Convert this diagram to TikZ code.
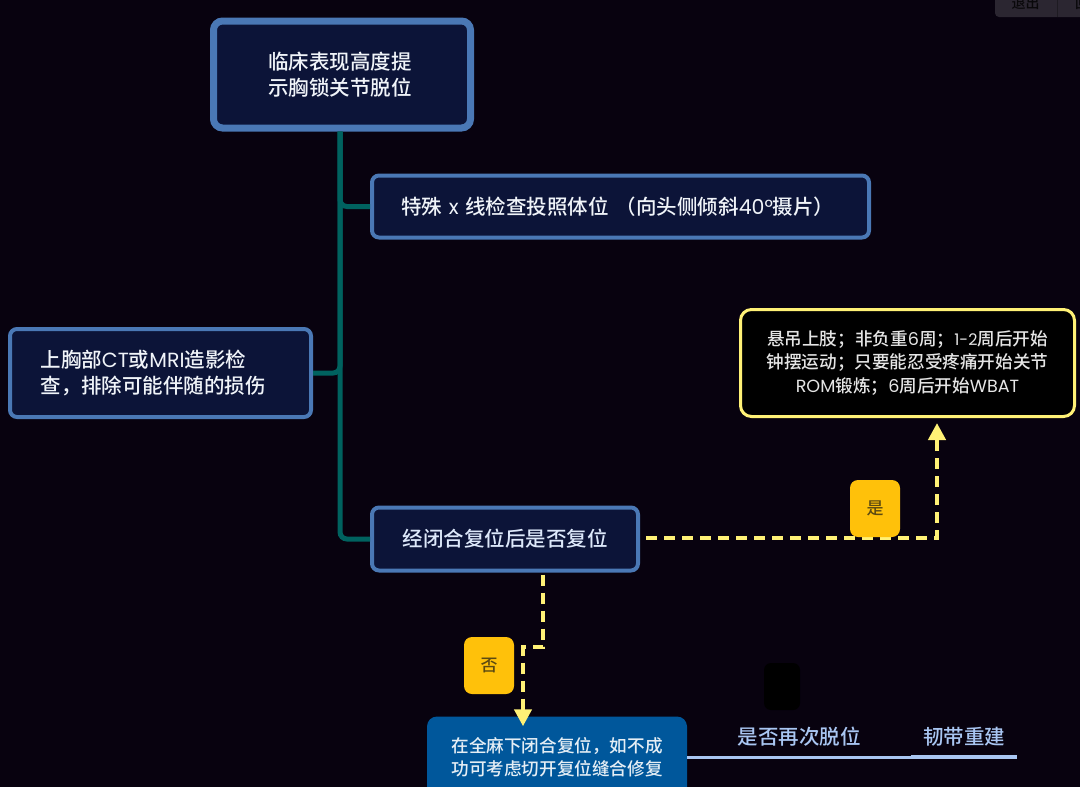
\documentclass[tikz,border=0pt]{standalone}
\usepackage{fontspec}
\setmainfont{Noto Sans CJK SC}[UprightFont=* Medium]
\newfontfamily\latn{Poppins}
\usetikzlibrary{arrows.meta}
\definecolor{bgdark}{HTML}{08020F}
\definecolor{boxfill}{HTML}{0C1438}
\definecolor{boxedge}{HTML}{4A78B5}
\definecolor{trunkteal}{HTML}{00625F}
\definecolor{dashyellow}{HTML}{FFF176}
\definecolor{tagamber}{HTML}{FFC10A}
\definecolor{tagtext}{HTML}{5C4A12}
\definecolor{bluefill}{HTML}{00579B}
\definecolor{linkblue}{HTML}{A9C6F2}
\definecolor{tabgray}{HTML}{2B2631}
\begin{document}
\begin{tikzpicture}[x=1pt, y=-1pt,
                    block/.style={rectangle, draw=boxedge, fill=boxfill, rounded corners=7pt, line width=4pt,
                                  text=white!92!boxedge, font=\fontsize{20.5}{26}\selectfont},
                    topblock/.style={block, line width=7pt, rounded corners=9pt, align=left},
                    advice/.style={rectangle, draw=dashyellow, fill=black, rounded corners=11pt, line width=3pt,
                                   text=white!90!black, align=center, font=\fontsize{17.6}{23.6}\selectfont},
                    repair/.style={rectangle, fill=bluefill, rounded corners=10pt, text=white!90!bluefill,
                                   align=center, font=\fontsize{17.6}{23}\selectfont},
                    tagbox/.style={rectangle, fill=tagamber, rounded corners=8pt, minimum width=50pt, minimum height=57pt,
                                   text=tagtext, font=\fontsize{17}{20}\selectfont},
                    linklabel/.style={text=linkblue, inner sep=0pt, font=\fontsize{20.5}{24}\selectfont},
                    tablabel/.style={text=black!80!tabgray, inner sep=0pt, font=\fontsize{14}{16}\selectfont},
                    trunk/.style={draw=trunkteal, line width=5pt, rounded corners=7pt},
                    flow/.style={draw=dashyellow, line width=4.5pt, dash pattern=on 11pt off 7pt,
                                 -{Triangle[length=17pt, width=17pt, fill=dashyellow]}},
                    linkline/.style={draw=linkblue, line width=3pt}]
  \useasboundingbox (0,0) rectangle (1080,787);
  \clip (0,0) rectangle (1080,787);
  \fill[bgdark] (0,0) rectangle (1080,787);

  \node[rectangle, fill=tabgray, rounded corners=4pt, minimum width=110pt, minimum height=34pt] (tabbar) at (1050,0) {};
  \draw[black!30!tabgray, line width=1pt] (tabbar.north -| 1057,0) -- (tabbar.south -| 1057,0);
  \node[tablabel] (exit) at (1025.5,3) {退出};
  \node[tablabel] (back) at (1082,3) {回};

  \node[topblock, minimum width=257pt, minimum height=107pt, text width=148pt, inner xsep=0pt] (top) at (342,74.5) {临床表现高度提\\示胸锁关节脱位};
  \node[block, minimum width=497pt, minimum height=62pt, text width=439pt, align=left, inner xsep=0pt] (xray) at (620.5,206.5)
       {特殊 {\latn x} 线检查投照体位 （向头侧倾斜{\latn 40°}摄片）};
  \node[block, minimum width=301pt, minimum height=88pt, text width=240pt, align=left, inner xsep=0pt] (ct) at (160.5,373)
       {上胸部{\latn CT}或{\latn MRI}造影检\\查，排除可能伴随的损伤};
  \node[block, minimum width=266pt, minimum height=63pt, text=linkblue!40!white] (reduce) at (505,539) {经闭合复位后是否复位};
  \node[advice, minimum width=334pt, minimum height=107pt] (sling) at (907.5,363)
       {悬吊上肢；非负重{\latn 6}周；{\latn\fontsize{16}{23.6}\selectfont 1-2}周后开始\\钟摆运动；只要能忍受疼痛开始关节\\{\latn ROM}锻炼；{\latn 6}周后开始{\latn WBAT}};
  \node[repair, minimum width=260pt, minimum height=81pt] (closed) at (557,757)
       {在全麻下闭合复位，如不成\\功可考虑切开复位缝合修复};

  \draw[trunk] ([xshift=-2pt]top.south) |- (xray.west);
  \draw[trunk] (ct.east) -| ([xshift=-2pt]top.south);
  \draw[trunk] ([xshift=-2pt]top.south) |- (reduce.west);

  \coordinate (yesturn) at (937,538);
  \coordinate (noturn) at (523,647);
  \draw[flow] ([xshift=6pt]reduce.east |- yesturn) -- (yesturn) -- ([yshift=-5pt]yesturn |- sling.south);
  \draw[flow] ([xshift=38pt,yshift=-2pt]reduce.south) |- (noturn) -- ([xshift=-34pt,yshift=-10pt]closed.north);

  \node[tagbox] (yes) at (875,508.5) {是};
  \node[tagbox] (no) at (489,665.5) {否};

  \node[rectangle, fill=black, rounded corners=7pt, minimum width=36pt, minimum height=47pt] (blank) at (782,686.5) {};
  \coordinate (linkmid) at (911,757);
  \coordinate (linkend) at (1017,757);
  \draw[linkline] (closed.east) -- (linkmid);
  \draw[linkline, line width=3.6pt] (linkmid) -- (linkend);
  \node[linklabel] (again) at (799,737) {是否再次脱位};
  \node[linklabel] (rebuild) at (964,737) {韧带重建};
\end{tikzpicture}
\end{document}
